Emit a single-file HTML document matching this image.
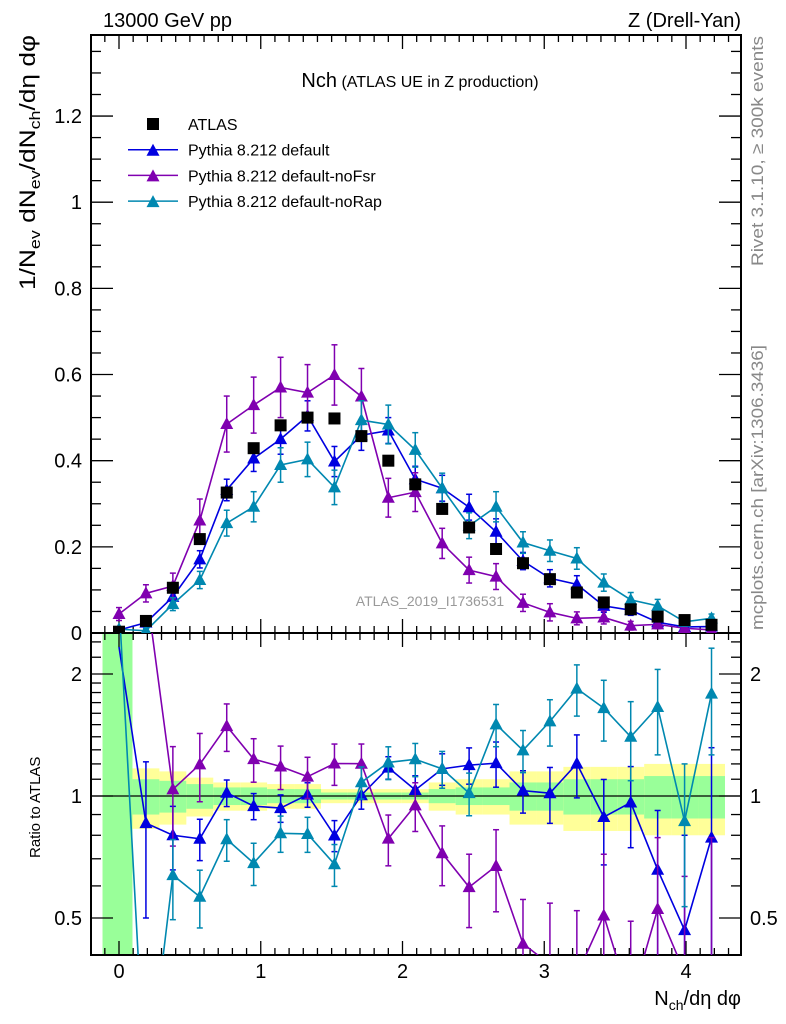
<!DOCTYPE html>
<html><head><meta charset="utf-8">
<style>
html,body{margin:0;padding:0;background:#fff;overflow:hidden;width:786px;height:1024px;}
svg{display:block;font-family:"Liberation Sans",sans-serif;}
</style></head>
<body>
<svg id="chart" width="786" height="1024" viewBox="0 0 786 1024" xmlns="http://www.w3.org/2000/svg">
<g id="bands" clip-path="url(#clipRatio)"></g>
<g id="axes"></g>
<g id="series"></g>
<text x="103" y="27" font-size="20">13000 GeV pp</text>
<text x="741" y="27" font-size="20" text-anchor="end">Z (Drell-Yan)</text>
<text x="420" y="87" text-anchor="middle"><tspan font-size="20">Nch</tspan><tspan font-size="16"> (ATLAS UE in Z production)</tspan></text>
<text x="430" y="606" font-size="14" fill="#999" text-anchor="middle">ATLAS_2019_I1736531</text>
<text transform="translate(763,266) rotate(-90)" font-size="17" fill="#888" textLength="230" lengthAdjust="spacingAndGlyphs">Rivet 3.1.10, ≥ 300k events</text>
<text transform="translate(763,630) rotate(-90)" font-size="17" fill="#888" textLength="285" lengthAdjust="spacingAndGlyphs">mcplots.cern.ch [arXiv:1306.3436]</text>
<text transform="translate(35,290) rotate(-90)" font-size="22" textLength="255" lengthAdjust="spacingAndGlyphs">1/N<tspan font-size="15" dy="5">ev</tspan><tspan dy="-5"> dN</tspan><tspan font-size="15" dy="5">ev</tspan><tspan dy="-5">/dN</tspan><tspan font-size="15" dy="5">ch</tspan><tspan dy="-5">/dη dφ</tspan></text>
<text transform="translate(40,858) rotate(-90)" font-size="15">Ratio to ATLAS</text>
<text x="741" y="1005" font-size="20" text-anchor="end">N<tspan font-size="14" dy="5">ch</tspan><tspan dy="-5">/dη dφ</tspan></text>
<g id="legend"></g>
</svg>
<script>
const xVals=[0,0.19,0.38,0.57,0.76,0.95,1.14,1.33,1.52,1.71,1.90,2.09,2.28,2.47,2.66,2.85,3.04,3.23,3.42,3.61,3.80,3.99,4.18];
const atlas=[0.003,0.028,0.105,0.218,0.326,0.429,0.482,0.500,0.498,0.457,0.400,0.345,0.288,0.245,0.195,0.162,0.125,0.094,0.071,0.055,0.038,0.030,0.019];
const pyDefault=[0.007,0.024,0.084,0.171,0.332,0.405,0.450,0.504,0.398,0.459,0.470,0.357,0.336,0.292,0.235,0.167,0.127,0.113,0.063,0.053,0.025,0.014,0.015];
const pyDefaultErr=[0.005,0.01,0.015,0.02,0.025,0.03,0.035,0.035,0.035,0.035,0.03,0.03,0.03,0.03,0.03,0.02,0.02,0.02,0.015,0.012,0.01,0.01,0.01];
const pyNoFsr=[0.044,0.092,0.109,0.261,0.485,0.529,0.570,0.558,0.599,0.549,0.314,0.327,0.208,0.146,0.131,0.070,0.048,0.034,0.036,0.017,0.020,0.011,0.007];
const pyNoFsrErr=[0.015,0.02,0.03,0.05,0.065,0.065,0.07,0.065,0.07,0.065,0.045,0.045,0.035,0.03,0.03,0.02,0.02,0.015,0.015,0.01,0.01,0.008,0.008];
const pyNoRap=[0.009,0.005,0.067,0.123,0.255,0.293,0.390,0.403,0.338,0.494,0.484,0.425,0.336,0.249,0.293,0.210,0.191,0.173,0.117,0.077,0.063,0.026,0.034];
const pyNoRapErr=[0.005,0.005,0.015,0.02,0.03,0.035,0.04,0.04,0.04,0.045,0.045,0.04,0.035,0.03,0.035,0.025,0.025,0.025,0.02,0.017,0.015,0.01,0.01];
const bandYellow=[2,0.17,0.15,0.11,0.08,0.08,0.07,0.07,0.04,0.04,0.04,0.04,0.08,0.1,0.1,0.15,0.15,0.18,0.18,0.18,0.2,0.2,0.2];
const bandGreen=[2,0.1,0.09,0.07,0.05,0.05,0.04,0.04,0.02,0.02,0.02,0.02,0.04,0.05,0.05,0.08,0.08,0.1,0.1,0.1,0.12,0.12,0.12];
const yTicks=[0,0.2,0.4,0.6,0.8,1,1.2];
const yTickLabels=["0","0.2","0.4","0.6","0.8","1","1.2"];
const xTicks=[0,1,2,3,4];
const rTicks=[0.5,1,2];
const rTickLabels=["0.5","1","2"];

const NS="http://www.w3.org/2000/svg";
const L=91,R=741,T=35,MB=633,RB=955;
const X=v=>119+v*141.75;
const Y=v=>633-v*430.8;
const RY=r=>796-Math.log2(r)*122;
function mk(tag,attrs,parent){const e=document.createElementNS(NS,tag);for(const k in attrs)e.setAttribute(k,attrs[k]);parent.appendChild(e);return e;}
const axes=document.getElementById('axes'),bands=document.getElementById('bands'),series=document.getElementById('series'),legend=document.getElementById('legend');
const defs=mk('defs',{},document.getElementById('chart'));
const c1=mk('clipPath',{id:'clipMain'},defs);mk('rect',{x:L,y:T,width:R-L,height:MB-T},c1);
const c2=mk('clipPath',{id:'clipRatio'},defs);mk('rect',{x:L,y:MB,width:R-L,height:RB-MB},c2);

for(let i=0;i<xVals.length;i++){
  const x0=X(xVals[i]-0.095)-(i==0?3:0),x1=X(xVals[i]+0.095);
  let y0=Math.max(MB,RY(1+bandYellow[i])),y1=Math.min(RB,RY(Math.max(0.01,1-bandYellow[i])));
  if(i==0){y0=MB;y1=RB;}
  const yb=mk('rect',{x:x0,y:y0,width:x1-x0,height:y1-y0,fill:'#ffff99'},bands);
  
  
  y0=Math.max(MB,RY(1+bandGreen[i]));y1=Math.min(RB,RY(Math.max(0.01,1-bandGreen[i])));
  if(i==0){y0=MB;y1=RB;}
  const gb=mk('rect',{x:x0,y:y0,width:x1-x0,height:y1-y0,fill:'#99ff99'},bands);
  
  
}
const f1=mk('rect',{x:L,y:T,width:R-L,height:MB-T,fill:'none',stroke:'#000','stroke-width':2},axes);


const f2=mk('rect',{x:L,y:MB,width:R-L,height:RB-MB,fill:'none',stroke:'#000','stroke-width':2},axes);


mk('line',{x1:L,x2:R,y1:RY(1),y2:RY(1),stroke:'#000','stroke-width':1.3},axes);
for(let v=0;v<=1.4;v+=0.05){const y=Y(v);if(y<T)break;const maj=Math.abs(v/0.2-Math.round(v/0.2))<1e-6;const len=maj?22:10;
  mk('line',{x1:L,x2:L+len,y1:y,y2:y,stroke:'#000','stroke-width':1.3},axes);mk('line',{x1:R,x2:R-len,y1:y,y2:y,stroke:'#000','stroke-width':1.3},axes);}
yTicks.forEach((v,i)=>{const t=mk('text',{x:82,y:Y(v)+7,'font-size':20,'text-anchor':'end'},axes);t.textContent=yTickLabels[i];
  
  });
for(let v=-0.2;v<=4.45;v+=0.1){const x=X(v);if(x<L||x>R)continue;const maj=Math.abs(v-Math.round(v))<1e-6;const len=maj?14:7;
  [T,MB].forEach(y=>mk('line',{x1:x,x2:x,y1:y,y2:y+len,stroke:'#000','stroke-width':1.3},axes));
  [MB,RB].forEach(y=>mk('line',{x1:x,x2:x,y1:y,y2:y-len,stroke:'#000','stroke-width':1.3},axes));}
xTicks.forEach(v=>{const t=mk('text',{x:X(v),y:978,'font-size':20,'text-anchor':'middle'},axes);t.textContent=String(v);
  
  });
[0.5,0.6,0.7,0.8,0.9,1,1.1,1.2,1.3,1.4,1.5,1.6,1.7,1.8,1.9,2,2.2,2.4].forEach(r=>{const y=RY(r);if(y<MB||y>RB)return;const maj=(r==0.5||r==1||r==2);const len=maj?22:10;
  mk('line',{x1:L,x2:L+len,y1:y,y2:y,stroke:'#000','stroke-width':1.3},axes);mk('line',{x1:R,x2:R-len,y1:y,y2:y,stroke:'#000','stroke-width':1.3},axes);});
rTicks.forEach((r,i)=>{[[82,'end'],[750,'start']].forEach(([x,a])=>{const t=mk('text',{x:x,y:RY(r)+7,'font-size':20,'text-anchor':a},axes);t.textContent=rTickLabels[i];
  
  });});

function tri(g,x,y,c){mk('polygon',{points:`${x},${y-7} ${x-6.5},${y+5} ${x+6.5},${y+5}`,fill:c},g);}
function drawSeries(name,vals,errs,color){
  const g=mk('g',{},series);
  
  
  const cm=mk('g',{'clip-path':'url(#clipMain)'},g);
  mk('polyline',{points:vals.map((v,i)=>X(xVals[i])+','+Y(v)).join(' '),fill:'none',stroke:color,'stroke-width':1.6},cm);
  vals.forEach((v,i)=>{const x=X(xVals[i]);const y0=Y(v+errs[i]),y1=Y(Math.max(0,v-errs[i]));
    mk('line',{x1:x,x2:x,y1:y0,y2:y1,stroke:color,'stroke-width':1.5},cm);
    mk('line',{x1:x-3,x2:x+3,y1:y0,y2:y0,stroke:color,'stroke-width':1.5},cm);
    mk('line',{x1:x-3,x2:x+3,y1:y1,y2:y1,stroke:color,'stroke-width':1.5},cm);
    tri(cm,x,Y(v),color);});
  const cr=mk('g',{'clip-path':'url(#clipRatio)'},g);
  const rat=vals.map((v,i)=>Math.max(0.05,v/atlas[i]));
  mk('polyline',{points:rat.map((r,i)=>X(xVals[i])+','+RY(r)).join(' '),fill:'none',stroke:color,'stroke-width':1.6},cr);
  rat.forEach((r,i)=>{if(i==0)return;const x=X(xVals[i]);const e=errs[i]/atlas[i];const y0=RY(r+e),y1=RY(Math.max(0.05,r-e));
    mk('line',{x1:x,x2:x,y1:y0,y2:y1,stroke:color,'stroke-width':1.5},cr);
    mk('line',{x1:x-3,x2:x+3,y1:y0,y2:y0,stroke:color,'stroke-width':1.5},cr);
    mk('line',{x1:x-3,x2:x+3,y1:y1,y2:y1,stroke:color,'stroke-width':1.5},cr);
    tri(cr,x,RY(r),color);});
}
drawSeries('series-pythia-default',pyDefault,pyDefaultErr,'#0000e0');
drawSeries('series-pythia-nofsr',pyNoFsr,pyNoFsrErr,'#8000b0');
drawSeries('series-pythia-norap',pyNoRap,pyNoRapErr,'#0088b0');
const ga=mk('g',{'clip-path':'url(#clipMain)'},series);


atlas.forEach((v,i)=>{const r=mk('rect',{x:X(xVals[i])-6,y:Y(v)-6,width:12,height:12,fill:'#000'},ga);
  
  });
const items=[['ATLAS',null],['Pythia 8.212 default','#0000e0'],['Pythia 8.212 default-noFsr','#8000b0'],['Pythia 8.212 default-noRap','#0088b0']];
items.forEach((it,i)=>{const y=124+i*25.7;const g=mk('g',{},legend);
  
  
  if(it[1]){mk('line',{x1:128,x2:178,y1:y,y2:y,stroke:it[1],'stroke-width':1.5},g);tri(g,153,y+1,it[1]);}
  else mk('rect',{x:147,y:y-6,width:12,height:12,fill:'#000'},g);
  const t=mk('text',{x:188,y:y+6,'font-size':16},g);t.textContent=it[0];});
</script>
</body></html>
